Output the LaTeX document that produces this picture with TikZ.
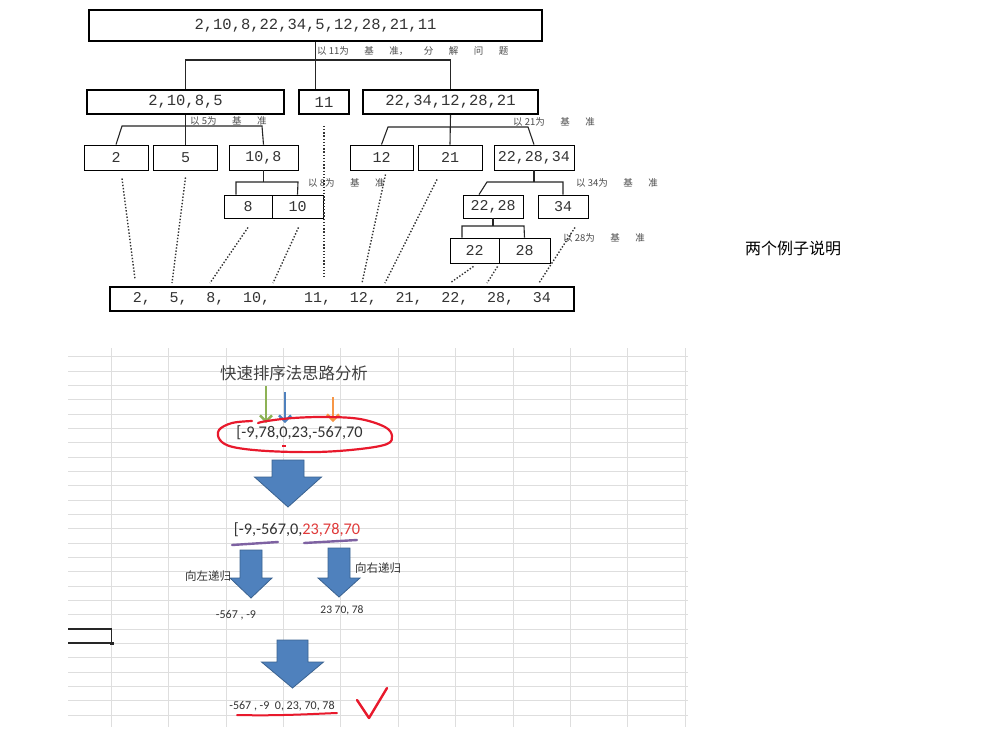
\documentclass[tikz,border=0pt]{standalone}
\usepackage{fontspec}
\newfontfamily\numfont{Liberation Mono}
\newfontfamily\cjk{Noto Sans CJK SC}
\newfontfamily\calib{Carlito}
\usepackage{tikz}
\usetikzlibrary{arrows.meta}

\definecolor{barblue}{HTML}{4F81BD}
\definecolor{bardark}{HTML}{3A6290}
\definecolor{lblgray}{HTML}{4A4A4A}
\definecolor{gridgray}{HTML}{DEDEDE}
\definecolor{pengreen}{HTML}{8DB255}
\definecolor{penblue}{HTML}{4F81BD}
\definecolor{penorange}{HTML}{F79646}
\definecolor{penred}{HTML}{E8192C}
\definecolor{penpurple}{HTML}{7E62A2}
\definecolor{numred}{HTML}{E03A3A}

\newcommand{\jg}{\hspace{15.5pt}}
\newcommand{\gp}{\hspace{18.75pt}}

\tikzset{
  bigbox/.style={draw, line width=1.6pt, inner sep=0pt, text=black!80,
    font=\numfont\fontsize{15.5}{18}\selectfont},
  smallbox/.style={draw, line width=0.9pt, inner sep=0pt, text=black!80,
    font=\numfont\fontsize{15}{18}\selectfont},
  tree/.style={line width=1.1pt, black!85},
  dots/.style={line width=1.4pt, dash pattern=on 1.4pt off 1.8pt, black!80},
  basis/.style={anchor=west, inner sep=0pt, text=lblgray,
    font=\cjk\fontsize{9.5}{11}\selectfont},
  gridline/.style={gridgray, line width=0.7pt},
  pen/.style={line width=2.4pt, -{Straight Barb[length=6pt,width=12pt]}},
  cell/.style={inner sep=0pt, text=black!80, font=\calib\fontsize{12}{14}\selectfont},
  pics/blockarrow/.style args={#1/#2/#3/#4}{code={
    \draw[fill=barblue, draw=bardark, line width=0.8pt]
      (-#1/2,0) -- (#1/2,0) -- (#1/2,#3) -- (#2/2,#3) -- (0,#3+#4)
      -- (-#2/2,#3) -- (-#1/2,#3) -- cycle;
  }}
}

\begin{document}
\begin{tikzpicture}[x=1pt,y=-1pt]
\fill[white] (0,0) rectangle (983,740);
\useasboundingbox (0,0) rectangle (983,740);

% first example: the tree
\node[bigbox, minimum width=453, minimum height=31] (all) at (315.5,25.5) {2,10,8,22,34,5,12,28,21,11};
\node[bigbox, minimum width=197, minimum height=24] (l1) at (185.5,102) {2,10,8,5};
\node[bigbox, minimum width=50, minimum height=24] (m11) at (324,102) {11};
\node[bigbox, minimum width=175, minimum height=24] (r1) at (450.5,102) {22,34,12,28,21};

\node[smallbox, minimum width=64, minimum height=25] (c2) at (116,157.5) {2};
\node[smallbox, minimum width=64, minimum height=25] (c5) at (185.5,157.5) {5};
\node[smallbox, minimum width=69, minimum height=25] (c108) at (263.5,157.5) {10,8};
\node[smallbox, minimum width=63, minimum height=25] (c12) at (381.5,157.5) {12};
\node[smallbox, minimum width=64, minimum height=25] (c21) at (450,157.5) {21};
\node[smallbox, minimum width=80, minimum height=25] (c222834) at (534,157.5) {22,28,34};

\node[smallbox, minimum width=48, minimum height=23] (c8) at (248,206.5) {8};
\node[smallbox, minimum width=51, minimum height=23] (c10) at (297.5,206.5) {10};
\node[smallbox, minimum width=60, minimum height=23] (c2228) at (493,206.5) {22,28};
\node[smallbox, minimum width=50, minimum height=23] (c34) at (563,206.5) {34};

\node[smallbox, minimum width=49, minimum height=25] (c22) at (474.5,250.5) {22};
\node[smallbox, minimum width=51, minimum height=25] (c28) at (524.5,250.5) {28};

\node[bigbox, minimum width=464, minimum height=24, font=\numfont\fontsize{15}{18}\selectfont] (sorted) at (342,299)
  {2,\gp 5,\gp 8,\gp 10,\hspace{34pt}11,\gp 12,\gp 21,\gp 22,\gp 28,\gp 34};

% splitting lines
\coordinate (b1) at (315.5,60);
\draw[tree] (all.south) -- (b1);
\draw[tree] (l1.north) |- (b1) -| (r1.north);
\draw[tree] (b1) -- (b1 |- m11.north);

\coordinate (b2l) at (122,126);
\coordinate (b2r) at (262,126);
\draw[tree] (l1.south) -- (c5.north);
\draw[tree] (c2.north) -- (b2l) -- (b2r) -- (c108.north);

\coordinate (b3l) at (388,127);
\coordinate (b3r) at (528,127);
\draw[tree] (r1.south) -- (c21.north);
\draw[tree] (c12.north) -- (b3l) -- (b3r) -- (c222834.north);

\coordinate (b4l) at (236,182);
\coordinate (b4r) at (298,182);
\draw[tree] (c108.south) -- (c108.south |- b4l);
\draw[tree] (b4l |- c8.north) -- (b4l) -- (b4r) -- (c10.north);

\coordinate (b5l) at (487,182);
\coordinate (b5r) at (563,182);
\draw[tree] (c222834.south) -- (c222834.south |- b5l);
\draw[tree] ([xshift=-14pt]c2228.north) -- (b5l) -- (b5r) -- (c34.north);

\coordinate (b6l) at (462,226);
\coordinate (b6r) at (524,226);
\draw[tree] (c2228.south) -- (c2228.south |- b6l);
\draw[tree] (b6l |- c22.north) -- (b6l) -- (b6r) -- (c28.north);

% pivot labels
\node[basis] (p11) at (317,51) {以 11为\jg 基\jg 准，\jg 分\jg 解\jg 问\jg 题};
\node[basis] (p5) at (190,121) {以 5为\jg 基\jg 准};
\node[basis] (p21) at (513,122) {以 21为\jg 基\jg 准};
\node[basis] (p8) at (308,183) {以 8为\jg 基\jg 准};
\node[basis] (p34) at (576,183) {以 34为\jg 基\jg 准};
\node[basis] (p28) at (563,238) {以 28为\jg 基\jg 准};

% dotted lines down to the result
\coordinate (e2) at (135,279);
\coordinate (e5) at (172,283);
\coordinate (e8) at (210,283);
\coordinate (e10) at (273,283);
\coordinate (e11) at (324,277);
\coordinate (e12) at (362,283);
\coordinate (e21) at (385,283);
\coordinate (e22) at (450,283);
\coordinate (e28) at (487,283);
\coordinate (e34) at (539,283);
\draw[dots] ([xshift=6pt,yshift=-8pt]c2.south) -- (e2);
\draw[dots] ([yshift=-7pt]c5.south) -- (e5);
\draw[dots] ([yshift=-9pt]c8.south) -- (e8);
\draw[dots] ([xshift=1pt,yshift=-9pt]c10.south) -- (e10);
\draw[dots] ([yshift=-11pt]m11.south) -- (e11);
\draw[dots] ([xshift=4pt,yshift=-4pt]c12.south) -- (e12);
\draw[dots] ([xshift=-13pt,yshift=-9pt]c21.south) -- (e21);
\draw[dots] ([xshift=-1pt,yshift=-3pt]c22.south) -- (e22);
\draw[dots] ([xshift=-1pt,yshift=-3pt]c28.south west) -- (e28);
\draw[dots] ([xshift=12pt,yshift=-9pt]c34.south) -- (e34);

\node[anchor=west, inner sep=0pt, font=\cjk\fontsize{16}{19}\selectfont] (note) at (745,248) {两个例子说明};

% second example: the sheet
\foreach \i in {0,...,25}
    \draw[gridline] (68,{356.7+14.33*\i}) -- (688,{356.7+14.33*\i});
\foreach \j in {0,...,10}
    \draw[gridline] ({111.4+57.36*\j},348) -- ({111.4+57.36*\j},727);

\draw[line width=1.8pt, black!85] (68,629) -- (111.5,629) -- (111.5,643) -- (68,643);
\fill[black!85] (110,641.5) rectangle (113.5,645);

\node[inner sep=0pt, text=black!75, font=\cjk\fontsize{16.4}{19}\selectfont] (title) at (294,373) {快速排序法思路分析};

\coordinate (gs) at (266,386);
\coordinate (ge) at (266,423);
\coordinate (bs) at (285,392);
\coordinate (be) at (285,423);
\coordinate (os) at (333,397);
\coordinate (oe) at (333,422);
\draw[pen, pengreen] (gs) -- (ge);
\draw[pen, penblue] (bs) -- (be);
\draw[pen, penorange] (os) -- (oe);

\node[inner sep=0pt, text=black!80, font=\calib\fontsize{16.3}{19}\selectfont] (seq0) at (299.5,433) {[-9,78,0,23,-567,70};
\draw[penred, line width=2.2pt, line cap=round] plot[smooth, tension=0.6] coordinates {
  (252,421) (232,423) (219,430) (220,440) (233,447) (267,451) (317,452)
  (360,449) (387,444) (392,436) (385,427) (360,419) (327,417) (293,418)
  (267,421) (258,423)};
\draw[penred, line width=2pt] (282,446) -- (286,446);

\pic at (288,460) {blockarrow=32/67/17/30};

\node[inner sep=0pt, text=black!80, font=\calib\fontsize{16.3}{19}\selectfont] (seq1) at (297,530)
  {[-9,-567,0,\textcolor{numred}{23,78,70}};
\draw[penpurple, line width=2.4pt, line cap=round] (232,545) -- (278,542);
\draw[penpurple, line width=2.4pt, line cap=round] (304,543) -- (357,540);

\node[anchor=west, inner sep=0pt, text=black!80, font=\cjk\fontsize{11.5}{13}\selectfont] (lrec) at (185,576) {向左递归};
\node[anchor=west, inner sep=0pt, text=black!80, font=\cjk\fontsize{11.5}{13}\selectfont] (rrec) at (355,568) {向右递归};
\pic at (251,550) {blockarrow=22/42/28/20};
\pic at (339,548) {blockarrow=22/42/30/19};

\node[cell] (lres) at (236,615) {-567 , -9};
\node[cell, font=\calib\fontsize{11.5}{14}\selectfont] (rres) at (342,610) {23 70, 78};

\pic at (292.5,640) {blockarrow=31/62/22/26};

\node[cell] (final) at (282,706) {-567 , -9~~0, 23, 70, 78};
\draw[penred, line width=2pt, line cap=round] (237,715) .. controls (280,716) and (310,714) .. (337,713);
\draw[penred, line width=2.4pt, line cap=round, line join=round] (357,700) -- (369,718) -- (387,688);
\end{tikzpicture}
\end{document}
